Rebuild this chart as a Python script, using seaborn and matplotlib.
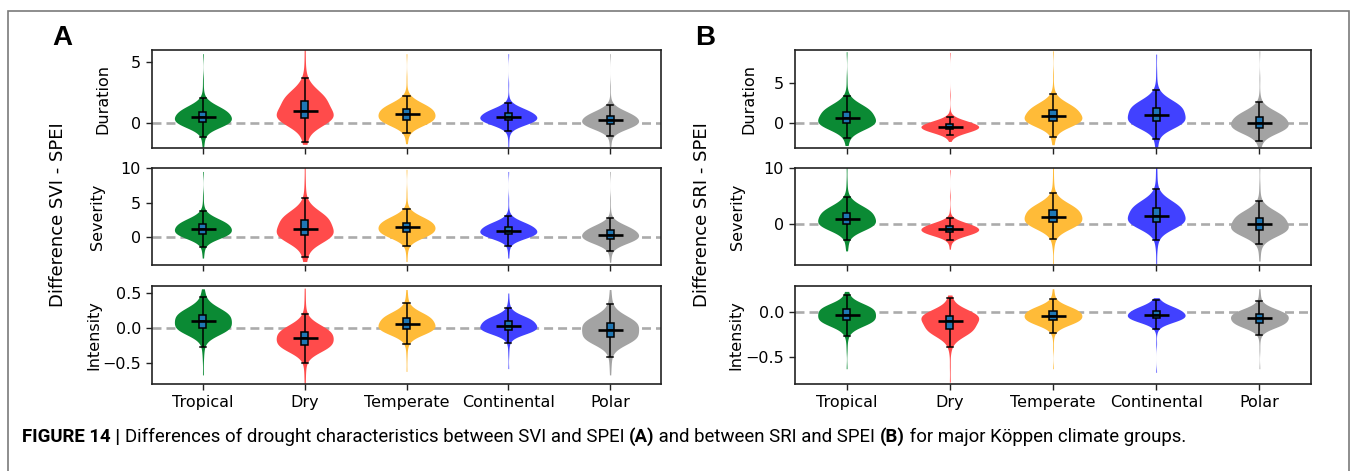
import numpy as np
import pandas as pd
import matplotlib
matplotlib.use("Agg")
import matplotlib.pyplot as plt
from matplotlib.patches import Rectangle
import seaborn as sns

# ---------------- data ----------------
categories = ["Tropical", "Dry", "Temperate", "Continental", "Polar"]
violin_colors = ["#0b8a34", "#ff4b4b", "#ffbb38", "#4141ff", "#a3a3a3"]
box_color = "#1f77b4"

# each violin is described by 19 ordered values; this is how many
# observations each value stands for (light tails, heavy centre)
weights = [1, 1, 1, 1, 2, 4, 8, 16, 24, 28, 24, 16, 8, 4, 2, 1, 1, 1, 1]

# Panel A: SVI - SPEI
svi_duration = [
    [-2.0, -1.6, -1.3, -1.12, -0.75, -0.45, -0.2, -0.05, 0.08, 0.46, 0.9, 1.1, 1.35, 1.6, 1.85, 2.08, 2.7, 3.6, 5.7],
    [-1.75, -1.68, -1.62, -1.55, -0.9, -0.4, 0.0, 0.25, 0.44, 0.98, 1.78, 2.2, 2.6, 3.0, 3.4, 3.72, 4.3, 5.2, 6.3],
    [-1.7, -1.35, -1.05, -0.8, -0.55, -0.3, -0.05, 0.12, 0.27, 0.71, 1.12, 1.35, 1.6, 1.85, 2.05, 2.2, 2.7, 3.7, 5.7],
    [-2.0, -1.3, -0.8, -0.66, -0.4, -0.2, -0.02, 0.1, 0.22, 0.46, 0.82, 0.98, 1.12, 1.3, 1.5, 1.67, 2.1, 3.2, 5.7],
    [-2.0, -1.6, -1.25, -1.08, -0.8, -0.55, -0.35, -0.22, -0.11, 0.22, 0.55, 0.75, 0.95, 1.15, 1.35, 1.52, 2.0, 3.0, 5.7],
]
svi_severity = [
    [-3.0, -2.2, -1.6, -1.35, -0.8, -0.3, 0.1, 0.35, 0.53, 1.2, 1.88, 2.2, 2.6, 3.0, 3.4, 3.86, 4.5, 6.0, 9.5],
    [-3.5, -3.3, -3.1, -2.85, -2.0, -1.2, -0.5, 0.0, 0.34, 1.26, 2.5, 3.0, 3.6, 4.2, 5.0, 5.7, 6.8, 8.3, 10.5],
    [-3.5, -2.3, -1.5, -1.25, -0.7, -0.2, 0.2, 0.45, 0.72, 1.45, 2.1, 2.5, 2.9, 3.3, 3.7, 4.15, 5.0, 6.5, 9.8],
    [-3.0, -2.1, -1.45, -1.2, -0.6, -0.2, 0.1, 0.28, 0.43, 0.92, 1.55, 1.8, 2.1, 2.45, 2.8, 3.1, 3.8, 5.5, 9.5],
    [-3.6, -2.8, -2.2, -1.93, -1.4, -1.0, -0.65, -0.4, -0.2, 0.34, 1.0, 1.3, 1.65, 2.0, 2.4, 2.75, 3.8, 5.5, 9.5],
]
svi_intensity = [
    [-0.67, -0.45, -0.32, -0.27, -0.18, -0.11, -0.06, -0.025, 0.0, 0.1, 0.183, 0.23, 0.28, 0.33, 0.39, 0.445, 0.48, 0.52, 0.56],
    [-0.8, -0.68, -0.56, -0.505, -0.42, -0.36, -0.31, -0.27, -0.24, -0.146, -0.06, -0.02, 0.03, 0.09, 0.15, 0.205, 0.3, 0.42, 0.57],
    [-0.62, -0.42, -0.29, -0.235, -0.17, -0.12, -0.07, -0.04, -0.014, 0.052, 0.136, 0.17, 0.21, 0.26, 0.31, 0.355, 0.4, 0.47, 0.55],
    [-0.58, -0.38, -0.26, -0.21, -0.15, -0.1, -0.06, -0.04, -0.023, 0.033, 0.103, 0.13, 0.16, 0.2, 0.24, 0.285, 0.32, 0.38, 0.5],
    [-0.67, -0.55, -0.46, -0.41, -0.32, -0.25, -0.2, -0.16, -0.131, -0.023, 0.066, 0.11, 0.16, 0.22, 0.28, 0.338, 0.4, 0.46, 0.55],
]

# Panel B: SRI - SPEI
sri_duration = [
    [-2.7, -2.5, -2.3, -1.83, -1.3, -0.9, -0.5, -0.2, 0.0, 0.63, 1.46, 1.8, 2.2, 2.6, 3.0, 3.37, 3.9, 5.5, 8.8],
    [-2.2, -1.9, -1.7, -1.46, -1.2, -1.05, -0.92, -0.8, -0.7, -0.42, -0.08, 0.05, 0.2, 0.38, 0.55, 0.75, 1.5, 3.5, 8.7],
    [-2.6, -2.2, -1.9, -1.65, -1.0, -0.55, -0.15, 0.12, 0.33, 0.88, 1.67, 2.0, 2.4, 2.8, 3.2, 3.65, 4.3, 6.0, 8.9],
    [-2.9, -2.6, -2.35, -1.92, -1.2, -0.7, -0.25, 0.05, 0.25, 1.08, 1.92, 2.3, 2.75, 3.2, 3.65, 4.08, 4.8, 6.3, 8.5],
    [-2.9, -2.7, -2.5, -2.17, -1.7, -1.3, -0.95, -0.7, -0.5, 0.08, 0.79, 1.1, 1.45, 1.85, 2.25, 2.67, 3.5, 5.5, 8.9],
]
sri_severity = [
    [-4.7, -3.9, -3.3, -2.76, -1.9, -1.3, -0.7, -0.3, 0.0, 1.0, 2.06, 2.6, 3.2, 3.8, 4.4, 4.94, 5.8, 7.5, 10.2],
    [-4.4, -3.6, -3.1, -2.8, -2.3, -2.0, -1.75, -1.55, -1.35, -0.88, -0.35, -0.1, 0.2, 0.5, 0.8, 1.12, 2.5, 5.0, 9.7],
    [-7.0, -4.0, -3.0, -2.65, -1.8, -1.1, -0.5, 0.0, 0.35, 1.35, 2.47, 3.0, 3.6, 4.3, 4.9, 5.53, 6.5, 8.0, 10.2],
    [-7.0, -4.5, -3.2, -2.76, -1.8, -1.1, -0.4, 0.1, 0.47, 1.53, 2.82, 3.4, 4.1, 4.8, 5.5, 6.24, 7.2, 8.7, 10.2],
    [-6.5, -5.2, -4.2, -3.53, -2.9, -2.3, -1.8, -1.3, -0.94, 0.0, 1.18, 1.7, 2.3, 2.9, 3.5, 4.12, 5.3, 7.0, 10.2],
]
sri_intensity = [
    [-0.63, -0.42, -0.31, -0.27, -0.22, -0.18, -0.14, -0.11, -0.093, -0.033, 0.03, 0.05, 0.075, 0.1, 0.14, 0.193, 0.216, 0.22, 0.23],
    [-0.78, -0.6, -0.43, -0.394, -0.34, -0.29, -0.25, -0.21, -0.185, -0.096, -0.044, -0.02, 0.01, 0.04, 0.09, 0.16, 0.17, 0.18, 0.19],
    [-0.63, -0.4, -0.27, -0.23, -0.19, -0.16, -0.13, -0.105, -0.089, -0.04, 0.007, 0.03, 0.055, 0.08, 0.11, 0.15, 0.17, 0.21, 0.26],
    [-0.67, -0.35, -0.21, -0.185, -0.15, -0.12, -0.1, -0.08, -0.067, -0.03, 0.015, 0.035, 0.06, 0.085, 0.11, 0.136, 0.145, 0.15, 0.16],
    [-0.63, -0.42, -0.3, -0.26, -0.21, -0.18, -0.155, -0.135, -0.119, -0.063, -0.022, 0.0, 0.025, 0.05, 0.08, 0.122, 0.15, 0.2, 0.26],
]

row_names = ["Duration", "Severity", "Intensity"]
panel_letters = ["A", "B"]
panel_ylabels = ["Difference SVI - SPEI", "Difference SRI - SPEI"]
caption_parts = [
    ("FIGURE 14 | ", "bold"),
    ("Differences of drought characteristics between SVI and SPEI ", "normal"),
    ("(A)", "bold"),
    (" and between SRI and SPEI ", "normal"),
    ("(B)", "bold"),
    (" for major Köppen climate groups.", "normal"),
]

# ---------------- layout / style ----------------
plt.rcParams["font.family"] = ["DejaVu Sans"]
plt.rcParams["axes.linewidth"] = 1.2
plt.rcParams["axes.edgecolor"] = "#222222"

W, H = 1356, 471
fig = plt.figure(figsize=(W / 100, H / 100), dpi=100)

panel_left = [152, 795]
panel_width = [509, 516]
row_top = [50, 168, 286]
row_bottom = [148, 265, 384]
ylims = [[(-2.05, 6.0), (-4.0, 10.0), (-0.8, 0.6)],
         [(-3.0, 9.0), (-7.2, 10.0), (-0.8, 0.29)]]
yticks = [[[0, 5], [0, 5, 10], [-0.5, 0.0, 0.5]],
          [[0, 5], [0, 10], [-0.5, 0.0]]]
rowlabel_x = [[103, 97, 94], [749, 738, 736]]
ylabel_x = [58, 702]
letter_x = [62, 705]

all_data = [[svi_duration, svi_severity, svi_intensity],
            [sri_duration, sri_severity, sri_intensity]]


def make_frame(groups):
    parts = []
    for cat, vals in zip(categories, groups):
        parts.append(pd.DataFrame({"group": cat,
                                   "value": np.repeat(np.asarray(vals, float), weights)}))
    return pd.concat(parts, ignore_index=True)


for p in range(2):
    for r in range(3):
        l = panel_left[p] / W
        b = 1 - row_bottom[r] / H
        h = (row_bottom[r] - row_top[r]) / H
        ax = fig.add_axes([l, b, panel_width[p] / W, h])
        df = make_frame(all_data[p][r])

        ax.axhline(0, color="#ababab", ls="--", lw=1.9, dashes=(3.4, 1.9), zorder=0.5)
        sns.violinplot(data=df, x="group", y="value", order=categories,
                       hue="group", hue_order=categories, palette=violin_colors,
                       legend=False, inner=None, cut=0, density_norm="width",
                       width=0.56, linewidth=0, saturation=1, bw_adjust=1.45,
                       ax=ax)
        sns.boxplot(data=df, x="group", y="value", order=categories,
                    width=0.07, color=box_color, linecolor="black", linewidth=1.1,
                    showfliers=False, saturation=1, whis=1.5, capwidths=0.06,
                    ax=ax)
        sns.pointplot(data=df, x="group", y="value", order=categories,
                      estimator="median", errorbar=None, color="black",
                      marker="_", linestyle="none", markersize=18,
                      markeredgewidth=1.9, zorder=6, ax=ax)

        ax.set_xlim(-0.5, 4.5)
        ax.set_ylim(*ylims[p][r])
        ax.set_yticks(yticks[p][r])
        ax.set_xlabel("")
        ax.set_ylabel("")
        ax.tick_params(labelsize=11.5, width=1.0, length=4.5, color="#222222")
        if r < 2:
            ax.set_xticklabels([])

        fig.text(rowlabel_x[p][r] / W, 1 - (row_top[r] + row_bottom[r]) / 2 / H,
                 row_names[r], rotation=90, ha="center", va="center", fontsize=11.5)

    fig.text(ylabel_x[p] / W, 1 - 215 / H, panel_ylabels[p], rotation=90,
             ha="center", va="center", fontsize=13)
    fig.text(letter_x[p] / W, 1 - 38 / H, panel_letters[p], ha="center", va="center",
             fontsize=20, fontweight="bold", family="Liberation Sans")

# frame around the figure (bottom edge outside the canvas)
fig.add_artist(Rectangle((8 / W, -0.2), (1349 - 8) / W, 1.2 - 11 / H,
                         transform=fig.transFigure, fill=False,
                         edgecolor="#7a7a7a", lw=1.2))

# caption, placed piece by piece
renderer = fig.canvas.get_renderer()
x = 22
cap_size = 13.4
for txt, weight in caption_parts:
    t = fig.text(x / W, 1 - 437 / H, txt, ha="left", va="center",
                 fontsize=cap_size, fontweight=weight, family="Roboto")
    bb = t.get_window_extent(renderer=renderer)
    x += bb.width

fig.savefig("out.png", dpi=100)
